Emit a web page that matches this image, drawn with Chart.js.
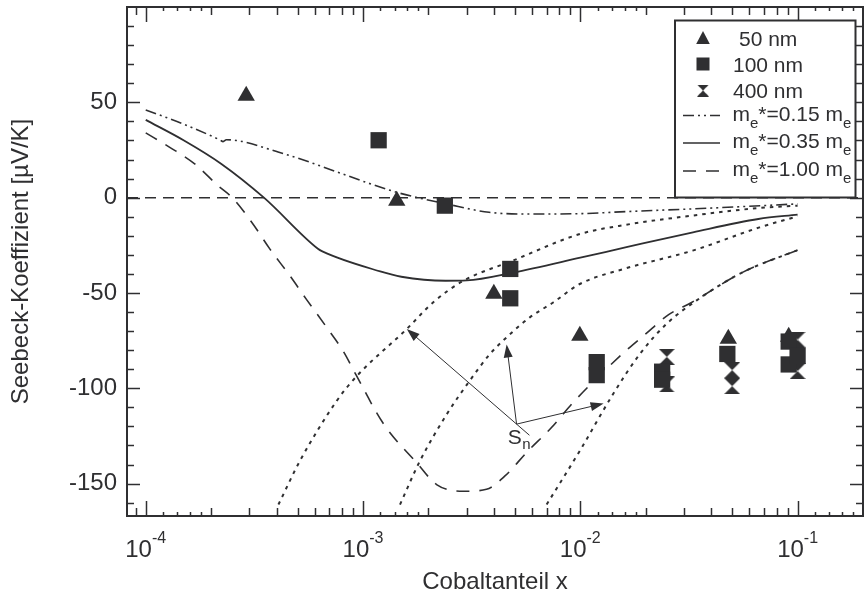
<!DOCTYPE html>
<html lang="de">
<head>
<meta charset="utf-8">
<title>Seebeck-Koeffizient vs. Cobaltanteil</title>
<script src="https://cdn.jsdelivr.net/npm/chart.js@4.4.1/dist/chart.umd.min.js"></script>
<style>
    html, body { margin: 0; padding: 0; background: #fff; }
    #wrap { width: 866px; height: 598px; }
</style>
</head>
<body>
<div id="wrap"><canvas id="seebeckChart" width="866" height="598"></canvas></div>
<script>
// Messpunkte: Cobaltanteil x / Seebeck-Koeffizient [µV/K]
const x50nm  = [2.9e-4, 1.43e-3, 4.0e-3, 9.95e-3, 0.048, 0.091];
const s50nm  = [53.5, -1.6, -50.4, -72.4, -74, -73];
const x100nm = [1.18e-3, 2.38e-3, 4.76e-3, 4.76e-3, 0.0119, 0.0119, 0.0238, 0.0238, 0.0475, 0.091, 0.091, 0.1];
const s100nm = [30.1, -4.2, -37.4, -52.8, -86.3, -93.1, -91.3, -95.5, -82, -75.5, -87.5, -83];
const x400nm = [0.025, 0.025, 0.05, 0.05, 0.1, 0.1];
const s400nm = [-83.5, -98, -90.5, -98.9, -74.5, -91];

// Modellkurven fuer verschiedene effektive Massen
const xM015 = [1e-4, 1.5e-4, 2.2e-4, 2.27e-4, 2.35e-4, 4.1e-4, 1.43e-3, 1.9e-3, 2.4e-3, 3.8e-3, 6e-3, 0.01, 0.0163, 0.033, 0.1];
const sM015 = [46, 38.5, 30.2, 29.4, 30.4, 23.8, 2.8, -0.7, -3.2, -7.7, -8.6, -8.4, -7.3, -5.9, -3.3];
const xM035 = [1e-4, 1.5e-4, 2.23e-4, 3.5e-4, 6.2e-4, 6.5e-4, 1.2e-3, 1.5e-3, 2.4e-3, 3.0e-3, 4.9e-3, 0.01, 0.0163, 0.033, 0.066, 0.1];
const sM035 = [40.8, 30, 17.7, 0, -26.8, -28.2, -38.7, -41.5, -43.6, -43.4, -39.3, -31.5, -26, -18.2, -11.2, -8.9];
const xM100 = [1e-4, 1.29e-4, 1.68e-4, 2.15e-4, 2.5e-4, 3.08e-4, 3.73e-4, 4.61e-4, 5.5e-4, 6.8e-4, 8.1e-4, 9.29e-4, 1.24e-3, 1.78e-3, 2.18e-3, 2.9e-3, 3.7e-3, 4.5e-3, 5.7e-3, 7.37e-3, 9.26e-3, 0.0153, 0.0198, 0.0255, 0.0325, 0.0558, 0.1];
const sM100 = [34, 26.4, 17.7, 6.3, 0, -13, -27, -41, -53.5, -68, -80.5, -93, -118.5, -139.5, -150.5, -154, -153, -146, -133.3, -120.6, -107.5, -82.9, -71.9, -61.4, -55, -39.2, -27.5];

// S_n-Kurven (gepunktet)
const xSnA = [4.08e-4, 5.13e-4, 7.57e-4, 9.29e-4, 1.59e-3, 2.1e-3, 2.9e-3, 4.9e-3, 9.95e-3, 0.0163, 0.0329, 0.0668, 0.1];
const sSnA = [-161, -138, -106.6, -94, -68.9, -55, -43.6, -33, -19.1, -14.2, -9.4, -5.4, -4.2];
const xSnB = [1.48e-3, 1.83e-3, 2.43e-3, 3.1e-3, 3.84e-3, 4.58e-3, 5.86e-3, 7.5e-3, 9.95e-3, 0.0163, 0.0329, 0.0668, 0.1];
const sSnB = [-161, -138, -113.6, -96, -82, -73.3, -62.8, -55, -45.3, -37, -27.8, -15.6, -9.8];
const xSnC = [7.0e-3, 9.95e-3, 0.01416, 0.0188, 0.0249, 0.0342, 0.0558, 0.1];
const sSnC = [-161, -132.8, -103, -82, -66.3, -54, -39.2, -27.5];

// Nulllinie
const xZero = [8.2e-5, 0.2];
const sZero = [0, 0];

// Achsen
const xDecades = [1e-4, 1e-3, 1e-2, 1e-1];
const yTicks = [-150, -100, -50, 0, 50];

// Pfeile zur Beschriftung S_n
const snTail = [5.09e-3, -118.8];
const snHeads = [[1.59e-3, -68.9], [4.58e-3, -77], [0.0128, -108]];
const snLabelAt = [4.64e-3, -129.4];

const ink = '#2f2f31';
const fam = "'Liberation Sans', Arial, Helvetica, sans-serif";
const dashDotDot = [11, 4, 2, 4, 2, 4];
const longDash = [13, 10];
const dotted = [3.5, 5];

const pts = (xs, ys) => xs.map((x, i) => ({ x: x, y: ys[i] }));

function makeBowtie(size) {
    const c = document.createElement('canvas');
    c.width = size;
    c.height = size;
    const g = c.getContext('2d');
    g.fillStyle = ink;
    g.beginPath();
    g.moveTo(0, 0); g.lineTo(size, 0); g.lineTo(size / 2, size / 2); g.closePath();
    g.moveTo(size / 2, size / 2); g.lineTo(size, size); g.lineTo(0, size); g.closePath();
    g.fill();
    return c;
}
const bowtie = makeBowtie(16);

function curve(label, xs, ys, dash, width) {
    return {
        label: label,
        data: pts(xs, ys),
        borderColor: ink,
        borderWidth: width,
        borderDash: dash,
        pointRadius: 0,
        cubicInterpolationMode: 'monotone',
        fill: false,
        clip: 0
    };
}

function line(ctx, x1, y1, x2, y2) {
    ctx.beginPath();
    ctx.moveTo(x1, y1);
    ctx.lineTo(x2, y2);
    ctx.stroke();
}

function arrow(ctx, x1, y1, x2, y2) {
    const a = Math.atan2(y2 - y1, x2 - x1);
    const len = 13, half = 4.5;
    line(ctx, x1, y1, x2 - Math.cos(a) * len * 0.8, y2 - Math.sin(a) * len * 0.8);
    ctx.beginPath();
    ctx.moveTo(x2, y2);
    ctx.lineTo(x2 - Math.cos(a) * len - Math.sin(a) * half, y2 - Math.sin(a) * len + Math.cos(a) * half);
    ctx.lineTo(x2 - Math.cos(a) * len + Math.sin(a) * half, y2 - Math.sin(a) * len - Math.cos(a) * half);
    ctx.closePath();
    ctx.fill();
}

// Text mit tiefgestelltem e: m_e*=... m_e
function drawMassLabel(ctx, x, base, value) {
    const parts = [['m', 0], ['e', 1], ['*=' + value + ' m', 0], ['e', 1]];
    parts.forEach(([t, sub]) => {
        ctx.font = sub ? `15px ${fam}` : `21px ${fam}`;
        ctx.fillText(t, x, sub ? base + 7 : base);
        x += ctx.measureText(t).width;
    });
}

function drawLegend(ctx, area) {
    const bx = area.right - 188, by = area.top + 13.5, bw = 180.5, bh = 177;
    ctx.save();
    ctx.fillStyle = '#fff';
    ctx.fillRect(bx, by, bw, bh);
    ctx.strokeStyle = ink;
    ctx.lineWidth = 2;
    ctx.strokeRect(bx, by, bw, bh);

    const cx = bx + 28;
    const rows = [31, 57, 83.5, 108.5, 136, 164].map(r => area.top + r);
    ctx.fillStyle = ink;
    ctx.textAlign = 'left';
    ctx.textBaseline = 'alphabetic';

    // Symbole
    ctx.beginPath();
    ctx.moveTo(cx, rows[0] - 7);
    ctx.lineTo(cx + 6.8, rows[0] + 6);
    ctx.lineTo(cx - 6.8, rows[0] + 6);
    ctx.closePath();
    ctx.fill();
    ctx.fillRect(cx - 6.5, rows[1] - 6.5, 13, 13);
    ctx.drawImage(bowtie, cx - 6, rows[2] - 6, 12, 12);

    ctx.font = `21px ${fam}`;
    ctx.fillText('50 nm', bx + 64, rows[0] + 7.5);
    ctx.fillText('100 nm', bx + 58, rows[1] + 7.5);
    ctx.fillText('400 nm', bx + 58, rows[2] + 7.5);

    // Linienmuster
    const styles = [[dashDotDot, '0.15'], [[], '0.35'], [longDash, '1.00']];
    styles.forEach(([dash, val], i) => {
        const y = rows[3 + i];
        ctx.setLineDash(dash);
        ctx.lineWidth = 1.6;
        line(ctx, bx + 8, y, bx + 45, y);
        ctx.setLineDash([]);
        drawMassLabel(ctx, bx + 57.5, y + 5, val);
    });
    ctx.restore();
}

const decorations = {
    id: 'decorations',
    afterDatasetsDraw(chart) {
        const ctx = chart.ctx;
        const xs = chart.scales.x, ys = chart.scales.y;
        const { left, right, top, bottom } = chart.chartArea;
        ctx.save();
        ctx.strokeStyle = ink;
        ctx.fillStyle = ink;

        // Pfeile und Beschriftung S_n
        ctx.lineWidth = 1;
        const tx = xs.getPixelForValue(snTail[0]), ty = ys.getPixelForValue(snTail[1]);
        snHeads.forEach(([hx, hy], i) => {
            const px = xs.getPixelForValue(hx), py = ys.getPixelForValue(hy);
            arrow(ctx, tx, ty, px, py);
            if (i === 0) {
                const a = Math.atan2(ty - py, tx - px);
                line(ctx, tx, ty, tx + Math.cos(a) * 17, ty + Math.sin(a) * 17);
            }
        });
        const lx = xs.getPixelForValue(snLabelAt[0]), ly = ys.getPixelForValue(snLabelAt[1]);
        ctx.textAlign = 'left';
        ctx.textBaseline = 'alphabetic';
        ctx.font = `21px ${fam}`;
        ctx.fillText('S', lx, ly);
        const sw = ctx.measureText('S').width;
        ctx.font = `15px ${fam}`;
        ctx.fillText('n', lx + sw + 0.5, ly + 5);

        // Rahmen
        ctx.lineWidth = 2;
        ctx.strokeRect(left, top, right - left, bottom - top);

        // Teilstriche nach innen, auf allen vier Seiten
        ctx.lineWidth = 1.5;
        for (let d = -5; d <= 0; d++) {
            [1, 1.2, 1.4, 1.6, 1.8, 2, 3, 4, 5, 6, 7, 8, 9].forEach(m => {
                const v = m * Math.pow(10, d);
                if (v <= xs.min || v >= xs.max) return;
                const len = m === 1 ? 15 : (m < 2 ? 4 : 8);
                const px = Math.round(xs.getPixelForValue(v)) + 0.5;
                line(ctx, px, bottom, px, bottom - len);
                line(ctx, px, top, px, top + len);
            });
        }
        for (let v = -160; v < ys.max; v += 10) {
            const len = v % 50 === 0 ? 13 : 7;
            const py = Math.round(ys.getPixelForValue(v)) + 0.5;
            line(ctx, left, py, left + len, py);
            line(ctx, right, py, right - len, py);
        }

        // Beschriftung der x-Achse als Zehnerpotenzen
        xDecades.forEach(v => {
            const px = xs.getPixelForValue(v);
            const base = '10', sup = '-' + Math.round(-Math.log10(v));
            ctx.font = `24px ${fam}`;
            const wb = ctx.measureText(base).width;
            ctx.font = `16px ${fam}`;
            const ws = ctx.measureText(sup).width;
            const x0 = px - (wb + ws) / 2;
            ctx.font = `24px ${fam}`;
            ctx.fillText(base, x0, bottom + 41);
            ctx.font = `16px ${fam}`;
            ctx.fillText(sup, x0 + wb, bottom + 27);
        });
        ctx.restore();

        drawLegend(ctx, chart.chartArea);
    }
};

const ctx = document.getElementById('seebeckChart').getContext('2d');
new Chart(ctx, {
    type: 'line',
    data: {
        datasets: [
            { label: '100 nm', data: pts(x100nm, s100nm), showLine: false, pointStyle: 'rect',
              pointRadius: 11.5, pointBackgroundColor: ink, pointBorderWidth: 0 },
            { label: '400 nm', data: pts(x400nm, s400nm), showLine: false, pointStyle: bowtie,
              pointRadius: 8, pointBackgroundColor: ink, pointBorderWidth: 0 },
            { label: '50 nm', data: pts(x50nm, s50nm), showLine: false, pointStyle: 'triangle',
              pointRadius: 10, pointBackgroundColor: ink, pointBorderWidth: 0 },
            curve('m_e*=0.15 m_e', xM015, sM015, dashDotDot, 1.6),
            curve('m_e*=0.35 m_e', xM035, sM035, [], 1.8),
            curve('m_e*=1.00 m_e', xM100, sM100, longDash, 1.6),
            curve('S_n A', xSnA, sSnA, dotted, 2),
            curve('S_n B', xSnB, sSnB, dotted, 2),
            curve('S_n C', xSnC, sSnC, dotted, 2),
            curve('0', xZero, sZero, [11, 7], 1.5)
        ]
    },
    options: {
        responsive: false,
        animation: false,
        events: [],
        layout: { autoPadding: false, padding: { top: 7, right: 3, left: 0, bottom: 0 } },
        plugins: {
            legend: { display: false },
            tooltip: { enabled: false }
        },
        scales: {
            x: {
                type: 'logarithmic',
                min: 8.2e-5,
                max: 0.2,
                bounds: 'data',
                afterBuildTicks: s => { s.ticks = xDecades.map(v => ({ value: v })); },
                afterFit: s => { s.height = 82; s.paddingLeft = 0; s.paddingRight = 0; },
                grid: { display: false, drawTicks: false },
                border: { display: false },
                ticks: { display: false },
                title: {
                    display: true,
                    text: 'Cobaltanteil x',
                    color: ink,
                    font: { family: fam, size: 24 },
                    padding: { top: 0, bottom: 1 }
                }
            },
            y: {
                min: -167,
                max: 100,
                bounds: 'data',
                afterBuildTicks: s => { s.ticks = yTicks.map(v => ({ value: v })); },
                afterFit: s => { s.width = 127; s.paddingTop = 0; s.paddingBottom = 0; },
                grid: { display: false, drawTicks: false },
                border: { display: false },
                ticks: { color: ink, padding: 10, font: { family: fam, size: 24 } },
                title: {
                    display: true,
                    text: 'Seebeck-Koeffizient [µV/K]',
                    color: ink,
                    font: { family: fam, size: 24 },
                    padding: { top: 7, bottom: 0 }
                }
            }
        }
    },
    plugins: [decorations]
});
</script>
</body>
</html>
